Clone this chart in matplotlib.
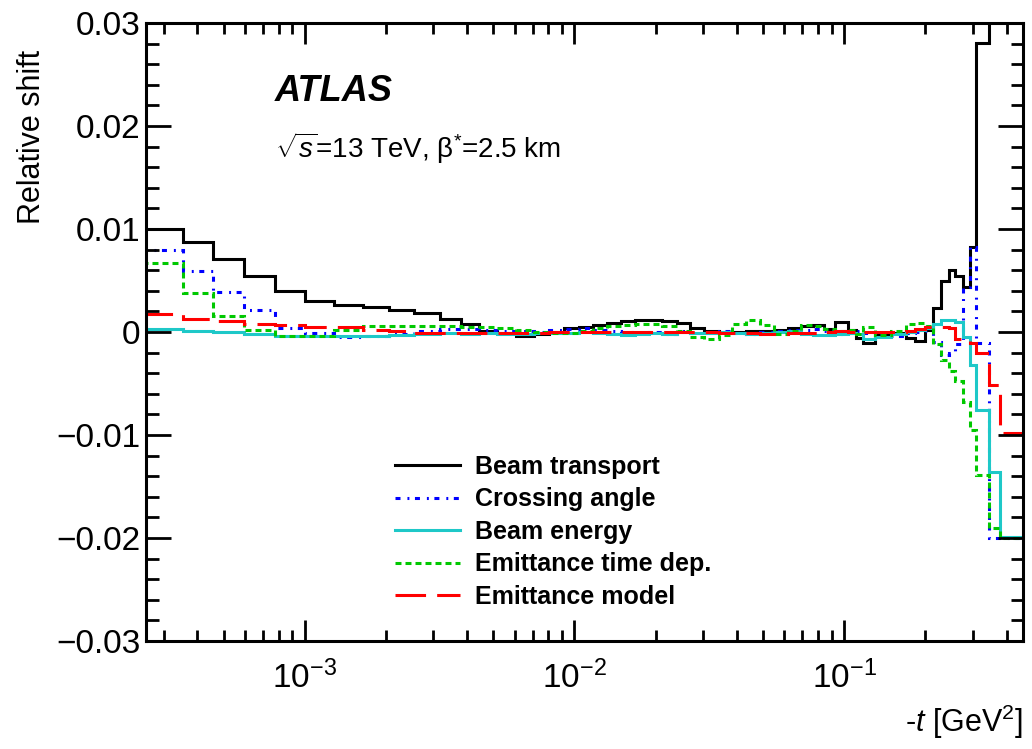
import matplotlib
matplotlib.use("Agg")
import matplotlib.pyplot as plt
from matplotlib.lines import Line2D
from matplotlib.ticker import LogLocator, MultipleLocator, FuncFormatter

plt.rcParams['font.family'] = ['Liberation Sans', 'DejaVu Sans']
plt.rcParams['mathtext.fontset'] = 'custom'
plt.rcParams['mathtext.rm'] = 'Liberation Sans'
plt.rcParams['mathtext.it'] = 'Liberation Sans:italic'
plt.rcParams['mathtext.bf'] = 'Liberation Sans:bold'
plt.rcParams['lines.scale_dashes'] = False

# bin edges in -t [GeV^2]
t_edges = [2.5e-4, 3.55e-4, 4.56e-4, 5.95e-4, 7.75e-4, 1.0e-3, 1.28e-3, 1.64e-3,
           2.06e-3, 2.55e-3, 3.16e-3, 3.8e-3, 4.44e-3, 5.17e-3, 6.08e-3, 7.09e-3,
           8.05e-3, 9.15e-3, 0.0104, 0.0117, 0.0132, 0.01485, 0.0167, 0.01885,
           0.0212, 0.0239, 0.0269, 0.0303, 0.0342, 0.0385, 0.0434, 0.0489,
           0.0551, 0.0620, 0.0693, 0.0768, 0.0844, 0.0924, 0.1035, 0.1108,
           0.1176, 0.1302, 0.1492, 0.1688, 0.1830, 0.2001, 0.2142, 0.2289,
           0.2439, 0.2566, 0.2754, 0.2915, 0.3084, 0.3451, 0.3796, 0.50]

beam_transport = [
    0.0100, 0.0087, 0.0071, 0.0054, 0.0040, 0.0030,
    0.0026, 0.0024, 0.0021, 0.0018, 0.0013, 0.0008,
    0.0001, -0.0001, -0.0004, -0.0002, 0.0000, 0.0004,
    0.0005, 0.0007, 0.0009, 0.0011, 0.0012, 0.0012,
    0.0011, 0.0009, 0.0004, 0.0001, 0.0000, 0.0000,
    0.0001, 0.0001, 0.0002, 0.0004, 0.0006, 0.0007,
    0.0003, 0.0010, 0.0002, -0.0006, -0.0011, -0.0003,
    -0.0001, -0.0006, -0.0009, 0.0002, 0.0023, 0.0050,
    0.0060, 0.0054, 0.0044, 0.0083, 0.0281, 0.0600, 0.0600]

crossing_angle = [
    0.0080, 0.0059, 0.0039, 0.0021, 0.0004, -0.0001,
    -0.0005, -0.0004, -0.0002, 0.0001, 0.0003, 0.0003,
    0.0002, 0.0001, 0.0001, 0.0000, 0.0002, 0.0003,
    0.0004, 0.0002, 0.0001, 0.0000, -0.0001, 0.0000,
    -0.0002, 0.0001, -0.0001, 0.0000, 0.0001, -0.0001,
    -0.0002, 0.0000, 0.0001, 0.0002, 0.0002, 0.0003,
    0.0001, -0.0002, -0.0001, 0.0001, -0.0001, -0.0003,
    -0.0004, -0.0001, 0.0000, 0.0001, -0.0010, -0.0022,
    -0.0020, -0.0012, 0.0044, 0.0083, -0.0011, -0.0200, -0.0200]

beam_energy = [
    0.0003, 0.0001, 0.0000, -0.0002, -0.0004, -0.0004,
    -0.0004, -0.0004, -0.0003, -0.0002, -0.0001, -0.0002,
    -0.0001, -0.0002, -0.0002, -0.0001, -0.0001, -0.0001,
    0.0000, -0.0001, -0.0002, -0.0003, -0.0002, -0.0001,
    -0.0002, 0.0000, -0.0001, -0.0001, 0.0000, -0.0001,
    -0.0002, -0.0001, 0.0000, 0.0001, -0.0002, -0.0003,
    -0.0003, -0.0002, -0.0001, -0.0002, -0.0007, -0.0005,
    -0.0002, 0.0000, 0.0002, 0.0004, 0.0008, 0.0012,
    0.0012, 0.0010, -0.0005, -0.0032, -0.0076, -0.0136, -0.0199]

emit_time = [
    0.0067, 0.0038, 0.0016, 0.0002, -0.0004, -0.0004,
    0.0002, 0.0006, 0.0006, 0.0006, 0.0006, 0.0005,
    0.0005, 0.0004, 0.0002, 0.0000, -0.0001, -0.0001,
    0.0001, 0.0004, 0.0006, 0.0007, 0.0008, 0.0008,
    0.0006, 0.0001, -0.0005, -0.0007, -0.0003, 0.0008,
    0.0012, 0.0007, -0.0002, 0.0001, 0.0007, 0.0006,
    0.0003, 0.0001, 0.0002, -0.0002, 0.0005, -0.0003,
    0.0001, 0.0008, 0.0009, 0.0006, -0.0012, -0.0027,
    -0.0038, -0.0048, -0.0068, -0.0095, -0.0139, -0.0190, -0.0200]

emit_model = [
    0.0017, 0.0013, 0.0011, 0.0008, 0.0007, 0.0005,
    0.0005, 0.0002, 0.0001, -0.0001, -0.0001, -0.0001,
    -0.0001, -0.0001, -0.0001, -0.0001, 0.0000, 0.0000,
    0.0000, 0.0000, 0.0000, 0.0000, 0.0000, 0.0000,
    0.0000, 0.0000, 0.0000, 0.0000, -0.0001, -0.0001,
    -0.0001, -0.0002, -0.0002, -0.0001, -0.0001, -0.0001,
    0.0000, 0.0001, 0.0000, -0.0001, 0.0000, 0.0000,
    0.0000, 0.0001, 0.0003, 0.0005, 0.0005, 0.0005,
    0.0004, -0.0007, -0.0009, -0.0011, -0.0020, -0.0051, -0.0098]

labels = ["Beam transport", "Crossing angle", "Beam energy",
          "Emittance time dep.", "Emittance model"]
series = [beam_transport, crossing_angle, beam_energy, emit_time, emit_model]
colors = ["black", "#0000ff", "#1ec8c8", "#00c800", "#ff0000"]
styles = ["-", (0, (3.6, 5.0, 1.4, 4.0)), "-", (0, (4.3, 2.9)), (0, (22, 8))]

fig = plt.figure(figsize=(10.32, 7.49), dpi=100)
ax = fig.add_axes([146 / 1032, 1 - 641 / 749, 877 / 1032, 618 / 749])

lw = 2.2
handles = []
for vals, c, ls in zip(series, colors, styles):
    ax.stairs(vals, t_edges, baseline=None, color=c, linestyle=ls, linewidth=lw)
    handles.append(Line2D([], [], color=c, linestyle=ls, linewidth=lw))

ax.set_xscale("log")
ax.set_xlim(2.58e-4, 0.46)
ax.set_ylim(-0.03, 0.03)

ax.yaxis.set_major_locator(MultipleLocator(0.01))
ax.yaxis.set_minor_locator(MultipleLocator(0.002))


def yfmt(v, pos):
    if abs(v) < 1e-9:
        return "0"
    return ("%.2f" % v).replace("-", "\u2212")


ax.yaxis.set_major_formatter(FuncFormatter(yfmt))
ax.xaxis.set_major_locator(LogLocator(base=10, numticks=10))
ax.xaxis.set_minor_locator(LogLocator(base=10, subs=range(2, 10), numticks=20))

ax.tick_params(which="both", direction="in", top=True, right=True, width=2.0,
               labelsize=24)
ax.tick_params(axis="y", which="major", length=18, pad=4)
ax.tick_params(axis="y", which="minor", length=9)
ax.tick_params(axis="x", which="major", length=15, pad=14)
ax.tick_params(axis="x", which="minor", length=8)
for sp in ax.spines.values():
    sp.set_linewidth(2.2)

ax.set_ylabel("Relative shift", fontsize=22, loc="top")
ax.yaxis.set_label_coords(-0.113, 0.956)
ax.set_xlabel(r"-$t$ [GeV$^{2}$]", fontsize=22, loc="right")
ax.xaxis.set_label_coords(1.0, -0.10)

fig.text(275 / 1032, 1 - 101 / 749, "ATLAS", fontsize=26, fontweight="bold",
         fontstyle="italic", va="baseline")
fig.text(275 / 1032, 1 - 158 / 749, "$\\sqrt{s}$=13 TeV, \u03b2$^{*}$=2.5 km",
         fontsize=20, va="baseline")

leg = fig.legend(handles, labels, loc="upper left",
                 bbox_to_anchor=(395 / 1032, 1 - 455 / 749),
                 frameon=False, prop={"size": 18, "weight": "bold"},
                 handlelength=2.6, handletextpad=0.6, labelspacing=0.34,
                 borderpad=0, borderaxespad=0)

fig.savefig("out.png", dpi=100)
